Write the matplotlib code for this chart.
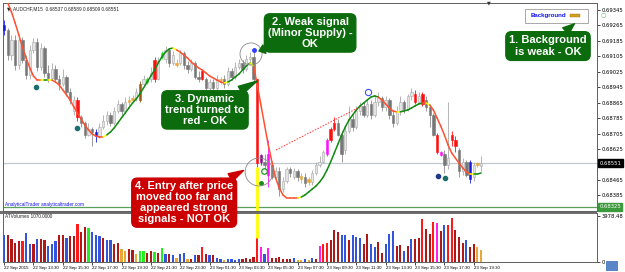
#%%
# LIBRARIES
import matplotlib
matplotlib.use("Agg")
import matplotlib.pyplot as plt
import matplotlib.transforms as mtransforms
from matplotlib.patches import Rectangle, Ellipse

#%%
# DATA  (AUDCHF M15, prices in 1e-5 units)
opens = [69267, 69241, 69112, 69190, 69060, 69190, 69086, 69008, 69138, 69180,
         69050, 69150, 69020, 68995, 69040, 68990, 68960, 69000, 68920, 68820,
         68880, 68790, 68760, 68700, 68730, 68715, 68690, 68740, 68770, 68800,
         68760, 68820, 68860, 68820, 68870, 68880, 68890, 68880, 68960, 68970,
         68990, 69085, 68990, 69100, 69090, 69140, 69070, 69060, 69070, 69120,
         69060, 69040, 69070, 69000, 69030, 68990, 68940, 68970, 68940, 68980,
         68990, 68960, 69030, 69000, 69050, 69070, 69040, 69090, 69100, 68985,
         68594, 68560, 68600, 68540, 68480, 68510, 68420, 68460, 68520, 68480,
         68510, 68485, 68480, 68470, 68455, 68500, 68540, 68560, 68600, 68670,
         68730, 68760, 68700, 68620, 68720, 68780, 68740, 68820, 68850, 68800,
         68860, 68800, 68870, 68890, 68840, 68880, 68800, 68760, 68820, 68870,
         68830, 68900, 68910, 68870, 68910, 68880, 68840, 68800, 68700, 68610,
         68600, 68540, 68700, 68670, 68620, 68510, 68560, 68560, 68480, 68540,
         68537]
highs = [69293, 69250, 69215, 69215, 69200, 69205, 69112, 69164, 69200, 69200,
         69175, 69160, 69060, 69070, 69060, 69010, 69040, 69010, 68940, 68900,
         68895, 68800, 68770, 68760, 68740, 68730, 68760, 68800, 68820, 68815,
         68840, 68880, 68870, 68895, 68900, 68905, 68940, 68975, 69010, 69000,
         69050, 69100, 69100, 69130, 69160, 69150, 69130, 69090, 69140, 69130,
         69080, 69090, 69080, 69030, 69040, 69000, 68990, 68990, 69010, 69000,
         69010, 69050, 69045, 69075, 69090, 69085, 69110, 69125, 69140, 68990,
         68600, 68600, 68670, 68560, 68530, 68530, 68480, 68530, 68530, 68525,
         68520, 68500, 68500, 68480, 68515, 68560, 68590, 68620, 68680, 68740,
         68790, 68780, 68720, 68740, 68850, 68800, 68850, 68870, 68870, 68880,
         68880, 68900, 68920, 68900, 68900, 68890, 68820, 68850, 68900, 68880,
         68910, 68940, 68930, 68920, 68920, 68900, 68860, 68810, 68710, 68615,
         68620, 68870, 68720, 68690, 68630, 68580, 68570, 68570, 68560, 68560,
         68589]
lows = [69215, 69086, 69086, 69034, 69040, 69070, 68990, 68990, 69120, 69030,
        69035, 69000, 68970, 68980, 68970, 68930, 68950, 68900, 68860, 68800,
        68770, 68740, 68680, 68690, 68640, 68660, 68680, 68730, 68750, 68745,
        68750, 68810, 68800, 68810, 68855, 68870, 68875, 68870, 68950, 68960,
        68970, 68970, 68980, 69090, 69070, 69050, 69060, 69050, 69060, 69040,
        69020, 69030, 68990, 68970, 68980, 68920, 68930, 68920, 68930, 68960,
        68940, 68950, 68980, 68990, 69040, 69020, 69030, 69060, 68975, 68530,
        68540, 68520, 68430, 68470, 68460, 68380, 68400, 68450, 68480, 68470,
        68460, 68450, 68430, 68440, 68440, 68490, 68530, 68550, 68590, 68660,
        68720, 68690, 68560, 68600, 68710, 68720, 68730, 68800, 68790, 68790,
        68780, 68790, 68850, 68820, 68820, 68780, 68740, 68750, 68800, 68810,
        68820, 68880, 68860, 68860, 68850, 68820, 68740, 68690, 68600, 68590,
        68500, 68520, 68640, 68610, 68480, 68490, 68480, 68450, 68460, 68530,
        68509]
closes = [69241, 69112, 69190, 69060, 69190, 69086, 69008, 69138, 69180, 69050,
          69150, 69020, 68995, 69040, 68990, 68960, 69000, 68920, 68880, 68880,
          68790, 68760, 68700, 68730, 68715, 68690, 68740, 68770, 68800, 68760,
          68820, 68860, 68820, 68870, 68880, 68890, 68920, 68960, 68990, 68990,
          69020, 68985, 69080, 69120, 69140, 69070, 69110, 69070, 69120, 69060,
          69040, 69070, 69000, 68990, 68990, 68940, 68970, 68940, 68990, 68990,
          68960, 69030, 69000, 69050, 69070, 69040, 69090, 69100, 68985, 68550,
          68558, 68540, 68490, 68480, 68510, 68420, 68460, 68520, 68500, 68510,
          68480, 68470, 68450, 68455, 68500, 68540, 68560, 68610, 68670, 68730,
          68760, 68700, 68600, 68720, 68780, 68740, 68820, 68850, 68800, 68860,
          68800, 68870, 68890, 68840, 68880, 68800, 68760, 68820, 68870, 68830,
          68900, 68920, 68870, 68900, 68860, 68840, 68800, 68700, 68610, 68595,
          68540, 68580, 68670, 68640, 68510, 68560, 68490, 68470, 68540, 68550,
          68551]
# g = plain, r red, b blue, G green, o orange, n brown, m magenta, p purple
candle_colors = ("bggggggggg" "gggggggggg" "rggggbgggg" "ggggoogngG"
                 "grgGgggogg" "ggggrggggo" "gggggggggr" "pgmggggggg"
                 "gogoggggmr" "rggggggggg" "gggggggggg" "ggrgrgggrm"
                 "ggrrgggbgo" "g")

# dynamic trend line and its colour code (r red, y yellow, g green)
trend = [69423, 69381, 69335, 69278, 69216, 69153, 69096, 69045, 69003, 68982,
         68982, 68982, 68982, 68982, 68972, 68957, 68931, 68905, 68879, 68843,
         68811, 68780, 68749, 68723, 68703, 68692, 68687, 68687, 68698, 68713,
         68734, 68760, 68786, 68811, 68837, 68863, 68884, 68910, 68941, 68972,
         69003, 69034, 69070, 69102, 69127, 69143, 69148, 69138, 69127, 69112,
         69096, 69076, 69060, 69045, 69034, 69019, 69003, 68993, 68982, 68972,
         68967, 68972, 68982, 68998, 69013, 69034, 69055, 69070, 69055, 68957,
         68853, 68749, 68646, 68558, 68475, 68423, 68387, 68371, 68371, 68371,
         68371, 68376, 68387, 68402, 68418, 68433, 68454, 68480, 68516, 68558,
         68604, 68651, 68698, 68739, 68775, 68801, 68827, 68848, 68863, 68879,
         68894, 68900, 68894, 68879, 68858, 68837, 68822, 68817, 68817, 68822,
         68827, 68837, 68848, 68858, 68863, 68863, 68853, 68827, 68786, 68744,
         68698, 68646, 68604, 68578, 68552, 68527, 68506, 68495, 68495, 68495,
         68501]
trend_colors = ("rrrrrrrrrr" "ygyrrrrrrr" "rrrrrrrygg" "gggggggggg"
                "ggggggyrrr" "rrrrrrrrrr" "yggggggyrr" "rrrrrrrrrr"
                "yggggggggg" "gggggggggg" "ggrrrrrygg" "ggggryrrrr"
                "rrrrrrrygg" "g")

volumes = [2374, 2374, 1960, 1684, 1822, 1822, 2512, 1546, 1546, 1960,
           1960, 1877, 1408, 1546, 1822, 2374, 2374, 2098, 2236, 2236,
           3257, 2594, 3064, 2926, 2594, 2374, 2236, 2098, 1877, 1877,
           1546, 1684, 1132, 938, 1132, 1049, 718, 994, 938, 773,
           938, 856, 773, 1214, 718, 718, 580, 386, 718, 773,
           221, 221, 580, 580, 1270, 718, 580,
           580, 386, 221, 166, 221, 221, 166, 221, 221, 304,
           221, 442, 2042, 1270, 718, 1187, 304, 304, 442, 221,
           221, 221, 304, 166, 166, 221, 166, 304, 221, 1408,
           1546, 1684, 1877, 2788, 2594, 2374, 2374, 1877, 2318, 2153,
           2098, 1601, 2456, 1546, 1325, 1739, 800, 1546, 2429, 2650,
           1408, 1463, 994, 1408,
           1960, 1960, 2042, 3754, 2843, 2429, 3478, 3422, 2650, 3202,
           3202, 3836, 2788, 2180, 1684, 1877, 1325, 1546, 1270, 1049]
# B blue, D dark red, R red, G green, O orange, M magenta
volume_colors = ("BDDDDRBBDB" "DDBBBDDBDD" "RDDGBBBDBB" "DDOODDOGGD"
                 "DGDGBDBOBB" "ODBDRDB"
                 "DBBOBBBBDD" "DDRMBMDDDD" "DDBOOBOBDM" "RRDDDBBDBB"
                 "BDDBBDDBBB" "DDBD"
                 "BDDRDDRMDB" "RRDDDBDDOO")

price_ticks = [0.69345, 0.69265, 0.69185, 0.69105, 0.69025, 0.68945, 0.68865,
               0.68785, 0.68705, 0.68625, 0.68465, 0.68385]
time_labels = ["22 Sep 2015", "22 Sep 13:30", "22 Sep 15:30", "22 Sep 17:30",
               "22 Sep 19:30", "22 Sep 21:30", "22 Sep 23:30", "23 Sep 01:30",
               "23 Sep 03:30", "23 Sep 05:30", "23 Sep 07:30", "23 Sep 09:30",
               "23 Sep 11:30", "23 Sep 13:30", "23 Sep 15:30", "23 Sep 17:30",
               "23 Sep 19:30"]
last_price = 0.68551
support_price = 0.68325

#%%
# STYLE
candle_map = {"r": "#ff1010", "b": "#1a1ae0", "G": "#22e022", "o": "#e8a838",
              "n": "#9a5a18", "m": "#ff10ff", "p": "#8a0a8a"}
trend_map = {"r": "#ff5030", "y": "#ffff00", "g": "#108a10"}
vol_map = {"B": "#3355dd", "D": "#b01818", "R": "#ff1a1a", "G": "#22ee22",
           "O": "#e8a838", "M": "#ff22ee"}
green_box = "#0c6b0c"
red_box = "#cc0000"
bold_font = dict(family="Liberation Sans", fontweight="bold", color="white", fontsize=8)
small_font = dict(family="Liberation Sans", fontsize=3.4, color="#222")

#%%
# FIGURE
fig = plt.figure(figsize=(6.25, 2.72), dpi=100)
ax = fig.add_axes([0.0048, 0.2243, 0.9504, 0.7647])
axv = fig.add_axes([0.0048, 0.0368, 0.9504, 0.1801])
ax.set_zorder(3)
axv.set_zorder(1)

n = len(closes)
o = [v / 1e5 for v in opens]
h = [v / 1e5 for v in highs]
l = [v / 1e5 for v in lows]
c = [v / 1e5 for v in closes]
tr = [v / 1e5 for v in trend]

# horizontal lines
ax.axhline(last_price, color="#c0c8d0", lw=0.9, zorder=1)
ax.axhline(support_price, color="#5aa05a", lw=0.9, zorder=1)

# candles
for i in range(n):
    code = candle_colors[i]
    if code == "g":
        if c[i] >= o[i]:
            fc, ec, wc = "#e4e4e4", "#a8a8a8", "#a8a8a8"
        else:
            fc, ec, wc = "#777777", "#777777", "#8c8c8c"
    else:
        fc = ec = wc = candle_map[code]
    ax.vlines(i, l[i], h[i], color=wc, lw=0.6, zorder=2)
    bot = min(o[i], c[i])
    hgt = max(abs(c[i] - o[i]), 0.00003)
    ax.add_patch(Rectangle((i - 0.32, bot), 0.64, hgt, fc=fc, ec=ec, lw=0.4, zorder=3))

# yellow marker under the big bar
big = 69
ax.vlines(big, 0.68304, l[big], color="#ffff00", lw=2.0, zorder=2)

# dynamic trend line
for i in range(n - 1):
    ax.plot([i, i + 1], [tr[i], tr[i + 1]], color=trend_map[trend_colors[i]],
            lw=1.1, zorder=4, solid_capstyle="round")

# dotted projection
ax.plot([74.1, 97.5], [0.68620, 0.68848], color="#ff3030", lw=0.7, ls=(0, (1.5, 1.5)), zorder=4)

# signal dots
ax.plot([8.7, 19.9, 120.2], [0.68946, 0.68734, 0.68475], "o", color="#1a6f6f", ms=3, zorder=5)
ax.plot([118.3], [0.68485], "o", color="#1f3a8a", ms=3, zorder=5)
ax.plot([70.0], [0.68449], "o", color="#1a8a1a", ms=2.5, zorder=5)
ax.plot([68.1], [0.69138], "o", color="#3040ff", ms=2.5, zorder=5)
ax.plot([70.8], [0.68511], "o", mfc="none", mec="#1a9a1a", ms=4, mew=0.9, zorder=5)
ax.plot([99.2], [0.68920], "o", mfc="none", mec="#4050ff", ms=4.5, mew=0.8, zorder=5)

# circles around signals
ax.add_patch(Ellipse((67.3, 0.69117), 6.0, 0.00114, fc="none", ec="#8a8a8a", lw=0.6, zorder=6))
ax.add_patch(Ellipse((69.5, 0.68506), 7.6, 0.00145, fc="none", ec="#8a8a8a", lw=0.6, zorder=6))

ax.set_xlim(-0.3, 161.6)
ax.set_ylim(0.68304, 0.69381)
ax.yaxis.tick_right()
ax.set_yticks(price_ticks)
ax.set_yticklabels([f"{p:.5f}" for p in price_ticks], fontsize=3.8)
ax.tick_params(axis="y", length=2, width=0.5, pad=1.5)
ax.set_xticks([])
for sp in ax.spines.values():
    sp.set_color("#606060")
    sp.set_linewidth(0.7)

# right axis price boxes
tr_y = mtransforms.blended_transform_factory(ax.transAxes, ax.transData)
ax.text(1.004, last_price, f"{last_price:.5f}", transform=tr_y, fontsize=3.8, color="white",
        va="center", ha="left", bbox=dict(boxstyle="square,pad=0.25", fc="black", ec="black"), zorder=10)
ax.text(1.004, support_price, f"{support_price:.5f}", transform=tr_y, fontsize=3.8, color="white",
        va="center", ha="left", bbox=dict(boxstyle="square,pad=0.25", fc="#3c9a3c", ec="#3c9a3c"), zorder=10)

# header texts
ax.text(0.006, 0.985, "\u25bc", transform=ax.transAxes, fontsize=3.5, va="top", ha="left", color="#222")
ax.text(0.017, 0.985, "AUDCHF,M15  0.68537 0.68589 0.68509 0.68551", transform=ax.transAxes,
        va="top", ha="left", **small_font)
ax.text(0.818, 1.0, "\u25bc", transform=ax.transAxes, fontsize=3.5, va="center", ha="center", color="#333")
ax.text(0.004, 0.02, "AnalyticalTrader analyticaltrader.com", transform=ax.transAxes,
        family="Liberation Sans", fontsize=3.4, va="bottom", ha="left", color="#1010ee")

# background legend box
ax.add_patch(Rectangle((0.879, 0.905), 0.106, 0.066, transform=ax.transAxes, fc="white",
                       ec="#9a9a9a", lw=0.6, zorder=8))
ax.text(0.889, 0.938, "Background", transform=ax.transAxes, family="Liberation Sans",
        fontsize=4.4, fontweight="bold", color="#1010ee", va="center", ha="left", zorder=9)
ax.add_patch(Rectangle((0.955, 0.932), 0.016, 0.013, transform=ax.transAxes, fc="#d4a020",
                       ec="#a07010", lw=0.3, zorder=9))
fig.text(0.966, 0.945, "\u25cb", fontsize=4.5, color="#50c050", ha="center", va="center")


def callout(text, tip, box, fc, ls):
    ax.annotate(text, xy=tip, xycoords="axes fraction", xytext=box, textcoords="axes fraction",
                ha="center", va="center", linespacing=ls, annotation_clip=False, zorder=20,
                bbox=dict(boxstyle="round,pad=0.3,rounding_size=0.5", fc=fc, ec=fc),
                arrowprops=dict(arrowstyle="wedge,tail_width=0.8", fc=fc, ec=fc,
                                shrinkA=0, shrinkB=0),
                **bold_font)


callout("1. Background\nis weak - OK", (0.962, 0.9), (0.9175, 0.793), green_box, 1.25)
callout("2. Weak signal\n(Minor Supply) -\nOK", (0.431, 0.769), (0.517, 0.856), green_box, 1.1)
callout("3. Dynamic\ntrend turned to\nred - OK", (0.428, 0.625), (0.340, 0.486), green_box, 1.1)
callout("4. Entry after price\nmoved too far and\nappeared strong\nsignals - NOT OK",
        (0.405, 0.195), (0.305, 0.040), red_box, 1.1)

# separator between panels
fig.patches.append(Rectangle((0.0, 1 - 213.5 / 272), 597 / 625, 3 / 272, transform=fig.transFigure,
                             fc="#6e6e6e", ec="none", zorder=2))

#%%
# VOLUME PANEL
for i in range(n):
    axv.bar(i, volumes[i], width=0.6, color=vol_map[volume_colors[i]], lw=0)
axv.vlines(big, volumes[big], 4250, color="#ffff00", lw=2.0)
axv.set_xlim(-0.3, 161.6)
axv.set_ylim(0, 4250)
axv.yaxis.tick_right()
axv.set_yticks([0, 3978.48])
axv.set_yticklabels(["0", "3978.48"], fontsize=3.8)
axv.tick_params(axis="y", length=2, width=0.5, pad=1.5)
axv.set_xticks(range(0, n, 8))
axv.set_xticklabels(time_labels, family="Liberation Sans", fontsize=3.2, ha="left")
axv.tick_params(axis="x", length=2, width=0.5, pad=1)
for sp in axv.spines.values():
    sp.set_color("#606060")
    sp.set_linewidth(0.7)
axv.text(0.004, 0.97, "ATVolumes 1070.0000", transform=axv.transAxes, va="top", ha="left",
         **small_font)
fig.patches.append(Rectangle((606 / 625, 0.005), 12 / 625, 0.035, transform=fig.transFigure,
                             fc="#5a86c8", ec="none"))

fig.savefig("out.png", dpi=100)
